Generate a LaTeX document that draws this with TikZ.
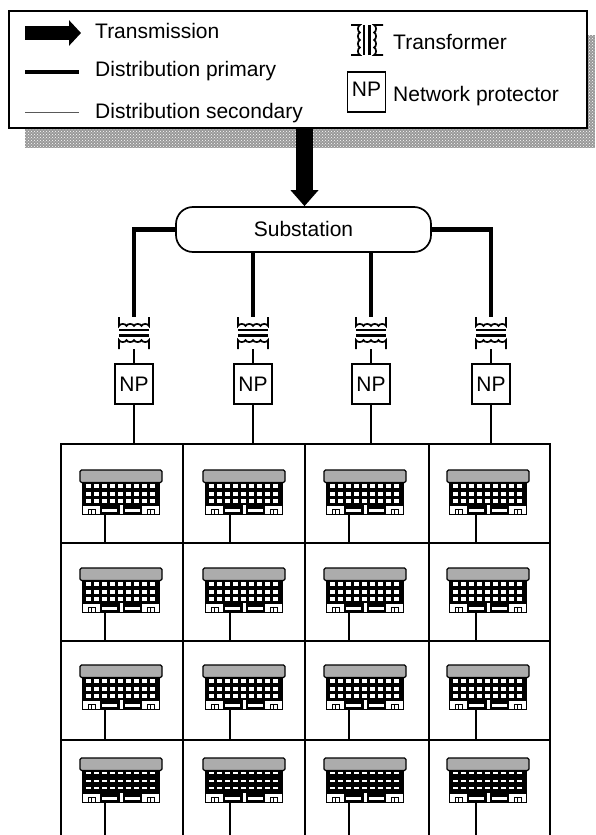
\documentclass[tikz,border=0pt]{standalone}
\usepackage{fontspec}
\setmainfont{Liberation Sans}
\usepackage{tikz}
\usetikzlibrary{arrows.meta, patterns}

\tikzset{
  pics/xfmrsym/.style={code={
    \draw[secline, line width=1.7pt] (-15,-16) -- (-15,-7) to[bend left=70] (-7.5,-7) to[bend left=70] (0,-7) to[bend left=70] (7.5,-7) to[bend left=70] (15,-7) -- (15,-16);
    \draw[secline, line width=1.7pt] (-15,16) -- (-15,7) to[bend right=70] (-7.5,7) to[bend right=70] (0,7) to[bend right=70] (7.5,7) to[bend right=70] (15,7) -- (15,16);
    \draw[secline, line width=2.4pt] (-15,-3) -- (15,-3);
    \draw[secline, line width=2.4pt] (-15,2.5) -- (15,2.5);
  }},
  pics/building/.style={code={
    \fill[black] (2,12) rectangle (80,45);
    \draw[fill=gray!65, line width=1.3pt, rounded corners=1.5pt] (0,0) rectangle (82,12.5);
    \foreach \j in {14,21.5,29}
      \foreach \i in {0,...,8}
        \fill[white] (6+8*\i,\j) rectangle ++(5.2,#1);
    % ground floor
    \fill[white] (3,35.5) rectangle (20,44);
    \fill[white] (62,35.5) rectangle (79,44);
    \fill[white] (22,38.5) rectangle (37,42);
    \fill[white] (45,38.5) rectangle (60,42);
    \fill[white] (39.5,35) rectangle (43,44);
    \foreach \i in {8,64+3}
      \draw[black, line width=1pt] (\i,44) -- (\i,39) -- (\i+7,39) -- (\i+7,44) (\i+3.5,39) -- (\i+3.5,44);
  }}
}

\begin{document}
\begin{tikzpicture}[
    x=1pt, y=-1pt,
    >=Latex,
    every node/.style={font=\fontsize{21}{25}\selectfont, text=black},
    priline/.style={line width=4.5pt, black},
    secline/.style={line width=1.6pt, black},
    lbl/.style={anchor=base west, inner sep=0pt},
    npbox/.style={rectangle, draw, line width=1.5pt, minimum width=38pt, minimum height=40pt, inner sep=0pt, fill=white},
    tfbox/.style={rectangle, minimum width=32pt, minimum height=32pt, inner sep=0pt},
    cellbox/.style={rectangle, draw, line width=1.5pt, anchor=north west, inner sep=0pt}
  ]
  \useasboundingbox (0,0) rectangle (595,835);

  % legend
  \fill[gray!80] (25,35) rectangle (595,148);
  \fill[pattern=crosshatch dots, pattern color=white] (25,35) rectangle (595,148);
  \node[rectangle, draw, line width=1.7pt, fill=white, anchor=north west, minimum width=578pt, minimum height=117pt, inner sep=0pt] (legend) at (8,10) {};

  \node[lbl] (ltrans) at (95,38) {Transmission};
  \node[lbl] (lprim) at (95,76) {Distribution primary};
  \node[lbl] (lsec) at (95,118) {Distribution secondary};
  \node[lbl] (lxfmr) at (393,49) {Transformer};
  \node[lbl] (lprot) at (393,101) {Network protector};

  \coordinate (ta) at (25,33);
  \coordinate (tb) at (81,33);
  \coordinate (pa) at (25,72);
  \coordinate (pb) at (79,72);
  \coordinate (sa) at (25,112);
  \coordinate (sb) at (79,112);
  \draw[line width=14pt, -{Triangle[length=12pt,width=25pt]}] (ta) -- (tb);
  \draw[priline] (pa) -- (pb);
  \draw[secline, line width=1pt, gray!70!black] (sa) -- (sb);

  \node[tfbox] (lsym) at (367,40) {};
  \pic[rotate=90] at (lsym.center) {xfmrsym};
  \node[npbox] (lnp) at (366.5,92) {\raisebox{5pt}{NP}};

  % substation
  \node[rectangle, draw, line width=1.7pt, rounded corners=17pt, fill=white, minimum width=255pt, minimum height=45pt, inner sep=0pt] (sub) at (303.5,229.5) {\raisebox{2pt}{Substation}};
  \draw[line width=16.5pt, -{Triangle[length=16pt,width=27pt]}] (legend.south -| 304.5,0) -- (sub.north -| 304.5,0);

  % feeders
  \foreach \c/\x in {1/134, 2/253, 3/371, 4/491} {
    \node[tfbox] (tf\c) at (\x,333) {};
    \pic at (tf\c.center) {xfmrsym};
    \node[npbox] (np\c) at (\x,384) {NP};
    \draw[secline] (tf\c.south) -- (np\c);
  }
  \draw[priline] (sub.west) -| (tf1.north);
  \draw[priline] (tf2 |- sub.south) -- (tf2.north);
  \draw[priline] (tf3 |- sub.south) -- (tf3.north);
  \draw[priline] (sub.east) -| (tf4.north);

  % network blocks
  \foreach \c/\x/\w/\bx/\lx in {1/60/122/80/105, 2/182/122/203/230, 3/304/124/324/349, 4/428/121/447/476}
    \foreach \r/\y/\h/\by/\wh in {1/443/99/470/4, 2/542/98/568/4, 3/640/99/665/4, 4/739/99/758/2.4} {
      \node[cellbox, minimum width=\w pt, minimum height=\h pt] (c\c\r) at (\x,\y) {};
      \pic at (\bx,\by) {building=\wh};
      \coordinate (b\c\r) at (\lx,\by+45);
      \draw[secline] (b\c\r) -- (b\c\r |- c\c\r.south);
    }
  \foreach \c in {1,...,4}
    \draw[secline] (np\c) -- (np\c |- c\c1.north);
\end{tikzpicture}
\end{document}
